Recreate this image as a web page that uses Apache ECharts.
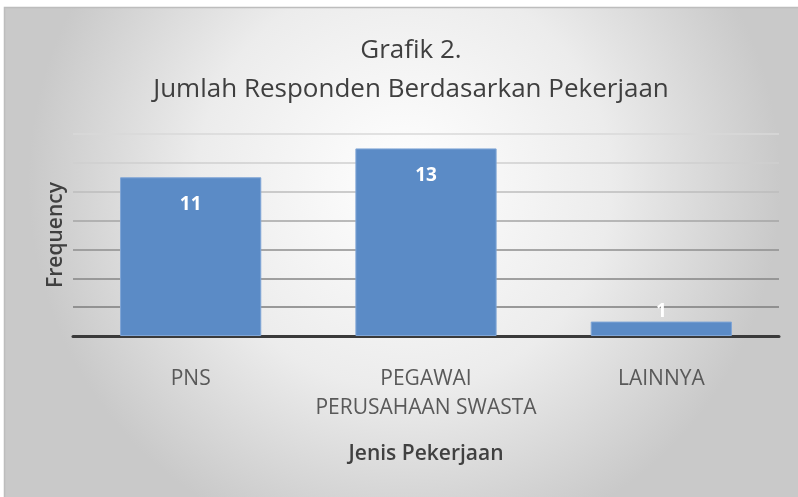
<!DOCTYPE html>
<html>
<head>
<meta charset="utf-8">
<script src="https://cdn.jsdelivr.net/npm/echarts@6/dist/echarts.min.js"></script>
<style>
html,body{margin:0;padding:0;background:#fff;}
#chart{width:798px;height:497px;}
</style>
</head>
<body>
<div id="chart"></div>
<script>
var titleText = 'Grafik 2.\nJumlah Responden Berdasarkan Pekerjaan';
var categories = ['PNS', 'PEGAWAI\nPERUSAHAAN SWASTA', 'LAINNYA'];
var frequencies = [11, 13, 1];
var xAxisName = 'Jenis Pekerjaan';
var yAxisName = 'Frequency';
var yMin = 0, yMax = 14, yInterval = 2;

var FONT = '"Open Sans", "Noto Sans", sans-serif';
var chart = echarts.init(document.getElementById('chart'), null, {renderer: 'canvas'});

var seriesData = frequencies.map(function (v) {
  var item = {value: v};
  if (v < 2) {
    item.label = {position: 'top', distance: 0};
  }
  return item;
});

chart.setOption({
  animation: false,
  backgroundColor: '#ffffff',
  graphic: [{
    type: 'rect',
    silent: true,
    z: -10,
    shape: {x: 4.5, y: 7.5, width: 800, height: 500},
    style: {
      fill: {
        type: 'radial', x: 0.5, y: 0.35, r: 0.75,
        colorStops: [
          {offset: 0, color: '#ffffff'},
          {offset: 0.55, color: '#ececec'},
          {offset: 1, color: '#c9c9c9'}
        ]
      },
      stroke: '#bdbdbd',
      lineWidth: 1.5
    }
  }],
  title: {
    text: titleText,
    left: 406,
    textAlign: 'center',
    top: 26,
    textStyle: {
      fontFamily: FONT, fontSize: 26, fontWeight: 'normal',
      color: '#3f3f3f', lineHeight: 39
    }
  },
  grid: {left: 73, right: 19, top: 134, bottom: 161, containLabel: false},
  xAxis: {
    type: 'category',
    data: categories,
    name: xAxisName,
    nameLocation: 'middle',
    nameGap: 108,
    nameTextStyle: {fontFamily: FONT, fontSize: 21, fontWeight: 600, color: '#404040'},
    axisLine: {lineStyle: {color: '#3a3a3a', width: 3}},
    axisTick: {show: false},
    axisLabel: {
      fontFamily: FONT, fontSize: 21, color: '#595959',
      margin: 29, lineHeight: 29, interval: 0
    }
  },
  yAxis: {
    type: 'value',
    min: yMin, max: yMax, interval: yInterval,
    name: yAxisName,
    nameLocation: 'middle',
    nameGap: 6,
    nameRotate: 90,
    nameTextStyle: {fontFamily: FONT, fontSize: 21, fontWeight: 600, color: '#404040'},
    axisLine: {show: false},
    axisTick: {show: false},
    axisLabel: {show: false},
    splitLine: {
      lineStyle: {
        width: 1.5,
        color: ['#3a3a3a', '#7c7c7c', '#848484', '#8e8e8e', '#a4a4a4', '#bdbdbd', '#cfcfcf', '#d9d9d9']
      }
    }
  },
  series: [{
    type: 'bar',
    data: seriesData,
    barWidth: '60%',
    itemStyle: {color: '#5b8bc6', borderColor: '#7fa5d6', borderWidth: 1},
    label: {
      show: true,
      position: 'insideTop',
      distance: 18,
      fontFamily: FONT, fontSize: 19, fontWeight: 'bold', color: '#ffffff'
    }
  }]
});
</script>
</body>
</html>
